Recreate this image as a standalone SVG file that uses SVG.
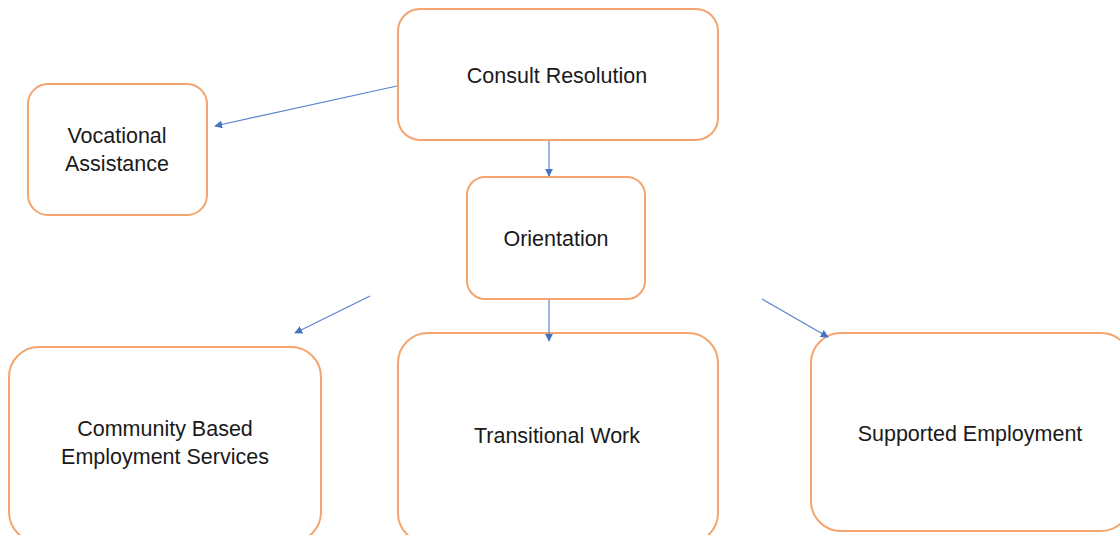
<svg xmlns="http://www.w3.org/2000/svg" width="1120" height="535" viewBox="0 0 1120 535">
<style>
.box{fill:#fff;stroke:#F4A46E;stroke-width:2}
.lbl{font-family:"Liberation Sans",Arial,sans-serif;font-size:21.5px;fill:#1a1a1a;text-anchor:middle}
.conn{stroke:#5B83CF;stroke-width:1.2;fill:none;marker-end:url(#ah)}
</style>
<defs>
<marker id="ah" viewBox="0 0 10 10" refX="9" refY="5" markerWidth="8" markerHeight="8" markerUnits="userSpaceOnUse" orient="auto">
<path d="M0,0 L10,5 L0,10 z" fill="#4472C4"/>
</marker>
</defs>
<rect width="1120" height="535" fill="#fff"/>
<g id="consult">
<rect class="box" x="398" y="9" width="320" height="131" rx="22"/>
<text class="lbl" x="557" y="83">Consult Resolution</text>
</g>
<g id="vocational">
<rect class="box" x="28" y="84" width="179" height="131" rx="20"/>
<text class="lbl" x="117" y="143">Vocational</text>
<text class="lbl" x="117" y="171">Assistance</text>
</g>
<g id="orientation">
<rect class="box" x="467" y="177" width="178" height="122" rx="18"/>
<text class="lbl" x="556" y="246">Orientation</text>
</g>
<g id="community">
<rect class="box" x="9" y="347" width="312" height="195" rx="30"/>
<text class="lbl" x="165" y="436">Community Based</text>
<text class="lbl" x="165" y="464">Employment Services</text>
</g>
<g id="transitional">
<rect class="box" x="398" y="333" width="320" height="210" rx="30"/>
<text class="lbl" x="557" y="443">Transitional Work</text>
</g>
<g id="supported">
<rect class="box" x="811" y="333" width="320" height="198" rx="30"/>
<text class="lbl" x="970" y="441">Supported Employment</text>
</g>
<g id="connectors">
<line class="conn" x1="397" y1="86" x2="215" y2="126"/>
<line class="conn" x1="549" y1="141" x2="549" y2="176"/>
<line class="conn" x1="549" y1="300" x2="549" y2="341"/>
<line class="conn" x1="370" y1="296" x2="295" y2="333"/>
<line class="conn" x1="762" y1="299" x2="828" y2="337"/>
</g>
</svg>
